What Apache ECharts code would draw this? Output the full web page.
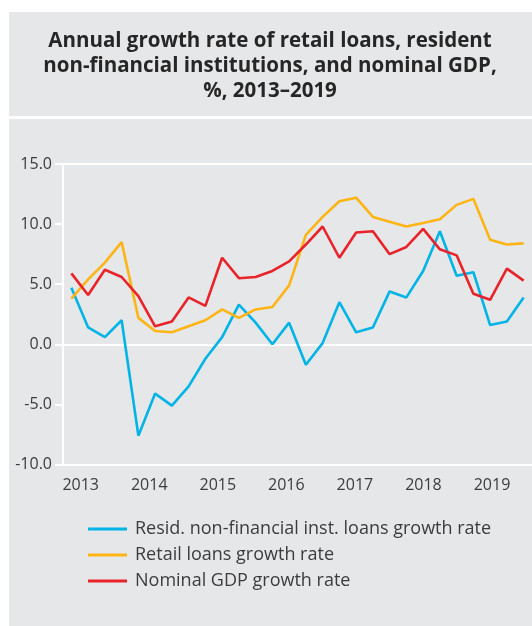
<!DOCTYPE html>
<html>
<head>
<meta charset="utf-8">
<script src="https://cdn.jsdelivr.net/npm/echarts@6/dist/echarts.min.js"></script>
<style>
  html, body { margin: 0; padding: 0; background: #ffffff; }
  #chart { width: 532px; height: 626px; }
</style>
</head>
<body>
<div id="chart"></div>
<script>
// Quarterly observations, 2013 Q1 – 2019 Q4
const quarters = [
  '2013Q1','2013Q2','2013Q3','2013Q4','2014Q1','2014Q2','2014Q3','2014Q4',
  '2015Q1','2015Q2','2015Q3','2015Q4','2016Q1','2016Q2','2016Q3','2016Q4',
  '2017Q1','2017Q2','2017Q3','2017Q4','2018Q1','2018Q2','2018Q3','2018Q4',
  '2019Q1','2019Q2','2019Q3','2019Q4'
];
const yearLabels = ['2013','2014','2015','2016','2017','2018','2019'];

const nonFinancialLoans = [4.7, 1.4, 0.6, 2.0, -7.6, -4.1, -5.1, -3.5, -1.2, 0.6, 3.3, 1.8, 0.0, 1.8,
  -1.7, 0.1, 3.5, 1.0, 1.4, 4.4, 3.9, 6.1, 9.4, 5.7, 6.0, 1.6, 1.9, 3.9];
const retailLoans = [3.8, 5.4, 6.8, 8.5, 2.2, 1.1, 1.0, 1.5, 2.0, 2.9, 2.2, 2.9, 3.1, 4.9,
  9.1, 10.6, 11.9, 12.2, 10.6, 10.2, 9.8, 10.1, 10.4, 11.6, 12.1, 8.7, 8.3, 8.4];
const nominalGdp = [5.9, 4.1, 6.2, 5.6, 4.0, 1.5, 1.9, 3.9, 3.2, 7.2, 5.5, 5.6, 6.1, 6.9,
  8.3, 9.8, 7.2, 9.3, 9.4, 7.5, 8.1, 9.6, 7.9, 7.4, 4.2, 3.7, 6.3, 5.3];

const seriesNames = [
  'Resid. non-financial inst. loans growth rate',
  'Retail loans growth rate',
  'Nominal GDP growth rate'
];

const FONT = '"Open Sans", "Noto Sans", sans-serif';
const PANEL = '#e6e7e9';
const TEXT = '#3c3c3c';

const chart = echarts.init(document.getElementById('chart'), null, { renderer: 'canvas' });

function lineSeries(name, data, color) {
  return {
    name: name,
    type: 'line',
    data: data,
    xAxisIndex: 0,
    yAxisIndex: 0,
    symbol: 'none',
    smooth: false,
    lineStyle: { color: color, width: 2.6 },
    itemStyle: { color: color },
    z: 5
  };
}

const clear = 'rgba(0,0,0,0)';

chart.setOption({
  animation: false,
  backgroundColor: '#ffffff',
  textStyle: { fontFamily: FONT },
  graphic: [
    { type: 'rect', z: -100, shape: { x: 9, y: 12, width: 523, height: 104 }, style: { fill: PANEL } },
    { type: 'rect', z: -100, shape: { x: 9, y: 119, width: 523, height: 507 }, style: { fill: PANEL } }
  ],
  title: {
    text: 'Annual growth rate of retail loans, resident\nnon-financial institutions, and nominal GDP,\n%, 2013\u20132019',
    left: 270,
    top: 29,
    padding: 0,
    textAlign: 'center',
    textStyle: {
      fontFamily: FONT,
      fontWeight: 'bold',
      fontSize: 20.5,
      lineHeight: 25,
      color: '#262626'
    }
  },
  legend: {
    orient: 'vertical',
    left: 88,
    top: 520,
    padding: 0,
    icon: 'rect',
    itemWidth: 39,
    itemHeight: 3,
    itemGap: 8,
    data: seriesNames,
    textStyle: { fontFamily: FONT, fontSize: 18, lineHeight: 18, color: TEXT, padding: [0, 0, 0, 3] }
  },
  grid: [
    { left: 63, right: 0, top: 164, bottom: 161.5, containLabel: false },
    { left: 80.7, right: 40, top: 164, bottom: 161.5, containLabel: false }
  ],
  xAxis: [
    {
      type: 'category',
      gridIndex: 0,
      data: quarters,
      boundaryGap: true,
      axisLine: { show: true, onZero: false, lineStyle: { color: '#ffffff', width: 2 } },
      axisTick: { show: false },
      axisLabel: { show: false },
      splitLine: { show: false }
    },
    {
      type: 'category',
      gridIndex: 1,
      data: yearLabels,
      boundaryGap: false,
      axisLine: { show: false },
      axisTick: { show: false },
      splitLine: { show: false },
      axisLabel: {
        show: true,
        interval: 0,
        margin: 13,
        fontFamily: FONT,
        fontSize: 16,
        color: TEXT
      }
    }
  ],
  yAxis: [
    {
      type: 'value',
      gridIndex: 0,
      min: -10,
      max: 15,
      interval: 5,
      axisLine: { show: true, onZero: false, lineStyle: { color: '#ffffff', width: 2 } },
      axisTick: { show: true, length: 8, lineStyle: { color: '#ffffff', width: 2 } },
      axisLabel: {
        margin: 11,
        fontFamily: FONT,
        fontSize: 16,
        color: TEXT,
        formatter: v => v.toFixed(1)
      },
      splitLine: {
        show: true,
        lineStyle: {
          width: 2,
          // white rules at -10, 0 and 15 only
          color: ['#ffffff', clear, '#ffffff', clear, clear, '#ffffff']
        }
      }
    },
    {
      type: 'value',
      gridIndex: 1,
      min: -10,
      max: 15,
      show: false
    }
  ],
  series: [
    lineSeries(seriesNames[0], nonFinancialLoans, '#00b4e6'),
    lineSeries(seriesNames[1], retailLoans, '#fdb515'),
    lineSeries(seriesNames[2], nominalGdp, '#e8232a')
  ]
});
</script>
</body>
</html>
